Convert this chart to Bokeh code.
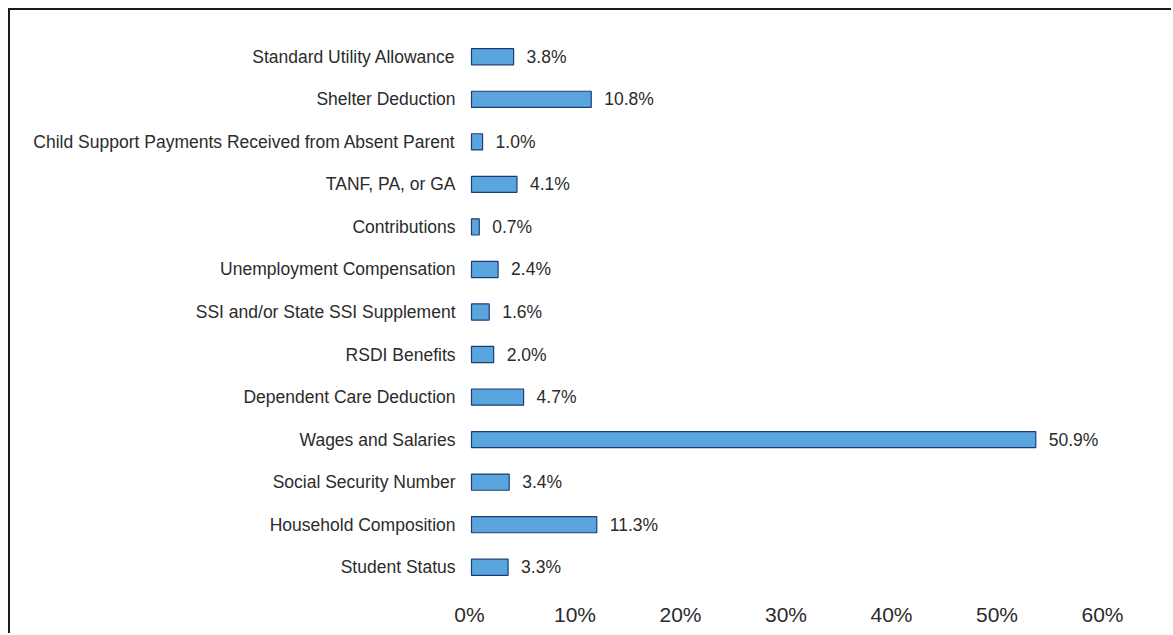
from bokeh.plotting import figure
from bokeh.models import Range1d, LinearAxis, FixedTicker, ColumnDataSource, CustomJSTickFormatter
from bokeh.core.properties import value
from bokeh.embed import file_html
from bokeh.resources import INLINE

categories = [
    "Standard Utility Allowance",
    "Shelter Deduction",
    "Child Support Payments Received from Absent Parent",
    "TANF, PA, or GA",
    "Contributions",
    "Unemployment Compensation",
    "SSI and/or State SSI Supplement",
    "RSDI Benefits",
    "Dependent Care Deduction",
    "Wages and Salaries",
    "Social Security Number",
    "Household Composition",
    "Student Status",
]
values = [3.8, 10.8, 1.0, 4.1, 0.7, 2.4, 1.6, 2.0, 4.7, 50.9, 3.4, 11.3, 3.3]
labels = [f"{v:.1f}%" for v in values]
tick_values = [0, 10, 20, 30, 40, 50, 60]

FONT = "Liberation Sans"

src = ColumnDataSource(dict(cat=categories, val=values, lab=labels))

p = figure(
    width=1163, height=625,
    y_range=list(reversed(categories)),
    x_range=Range1d(-0.36, 62.15),
    output_backend="svg", toolbar_location=None,
    min_border_left=457, min_border_right=13,
    min_border_top=25, min_border_bottom=47,
)
p.styles = {"border-top": "2px solid #1a1a1a", "border-left": "2px solid #1a1a1a",
            "margin-left": "8px", "margin-top": "8px"}

p.hbar(y="cat", right="val", left=0, height=0.38, source=src,
       fill_color="#5ba5de", line_color="#1d3c74", line_width=1.2)
p.text(x="val", y="cat", text="lab", source=src, x_offset=13,
       text_baseline="middle", text_align="left",
       text_font=value(FONT), text_font_size="17.5px", text_color="#2b2b2b")

p.xaxis.visible = False

p.extra_x_ranges = {"lab": Range1d(-0.19, 65.5)}
ax = LinearAxis(x_range_name="lab", ticker=FixedTicker(ticks=tick_values),
                formatter=CustomJSTickFormatter(code="return tick + '%';"))
ax.axis_line_color = None
ax.major_tick_line_color = None
ax.minor_tick_line_color = None
ax.major_label_standoff = 8
ax.major_label_text_font = FONT
ax.major_label_text_font_size = "21px"
ax.major_label_text_color = "#2b2b2b"
p.add_layout(ax, "below")

p.yaxis.axis_line_color = None
p.yaxis.major_tick_line_color = None
p.yaxis.minor_tick_line_color = None
p.yaxis.major_label_standoff = 6
p.yaxis.major_label_text_font = FONT
p.yaxis.major_label_text_font_size = "17.5px"
p.yaxis.major_label_text_color = "#2b2b2b"

p.y_range.range_padding = 0
p.xgrid.visible = False
p.ygrid.visible = False
p.outline_line_color = None

open("out.html", "w").write(file_html(p, INLINE))
